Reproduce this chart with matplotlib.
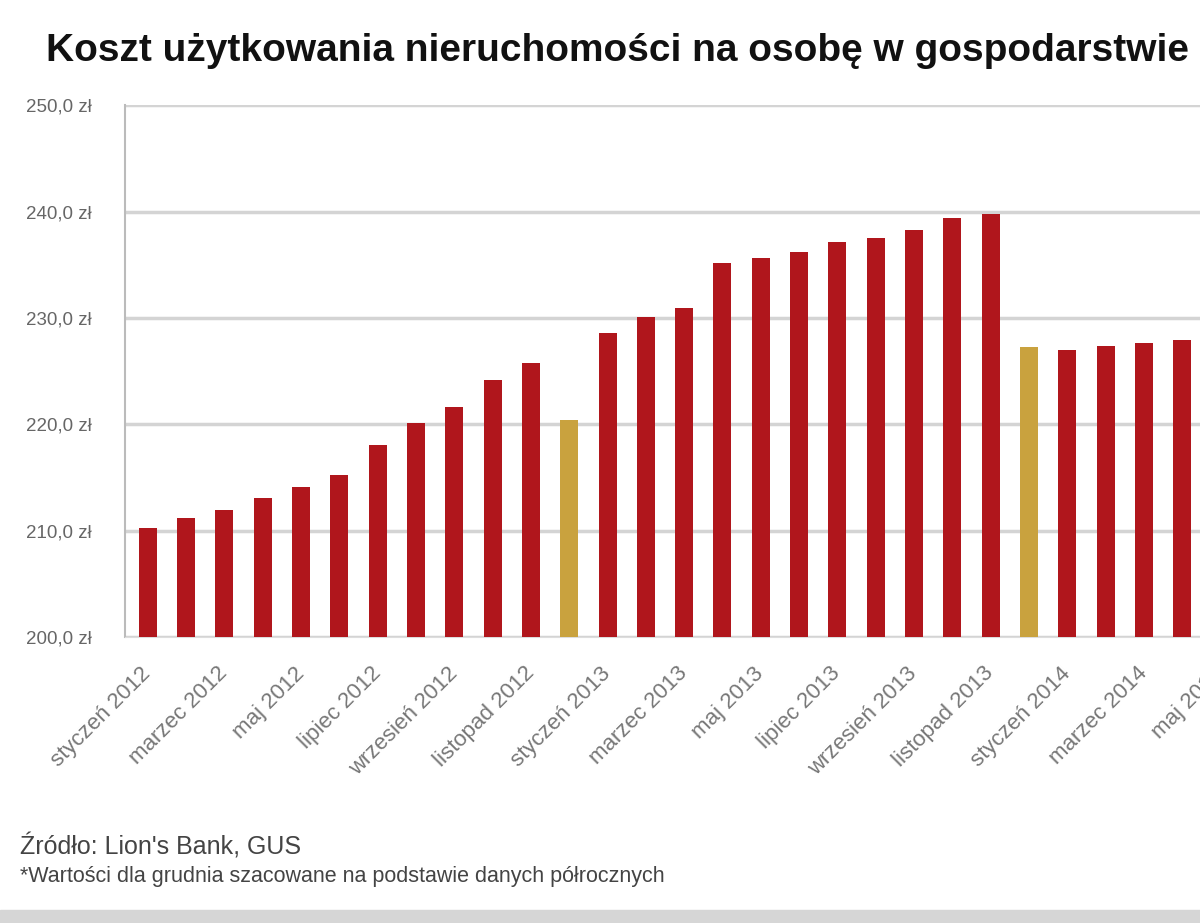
import numpy as np
import matplotlib
matplotlib.use("Agg")
import matplotlib.pyplot as plt
from matplotlib.patches import Rectangle

plt.rcParams['font.family'] = ['Liberation Sans', 'DejaVu Sans']

# monthly cost (zł)
months = ['styczeń', 'luty', 'marzec', 'kwiecień', 'maj', 'czerwiec',
          'lipiec', 'sierpień', 'wrzesień', 'październik', 'listopad', 'grudzień']
years = [2012, 2013, 2014]
labels = [f'{m} {y}' for y in years for m in months][:29]
values = [210.2, 211.2, 211.9, 213.1, 214.1, 215.2, 218.0, 220.1, 221.6, 224.2,
          225.8, 220.4, 228.6, 230.1, 230.9, 235.2, 235.6, 236.2, 237.1, 237.5,
          238.3, 239.4, 239.8, 227.3, 227.0, 227.4, 227.6, 227.9, 228.1]
estimated = [11, 23]   # yellow bars (grudzień)
yticks = [200, 210, 220, 230, 240, 250]

red = '#B0161C'
gold = '#C9A23E'

fig = plt.figure(figsize=(12, 9.23), dpi=100)
ax = fig.add_axes([0.104, 0.31, 0.977, 0.576])

x = np.arange(len(values))
colors = [gold if i in estimated else red for i in x]
ax.bar(x, [v - 200 for v in values], bottom=200, width=0.47, color=colors, zorder=3)

ax.set_ylim(200, 250)
ax.set_xlim(-0.6, 30)
ax.set_yticks(yticks)
ax.set_yticklabels([f'{t},0 zł' for t in yticks], fontsize=13.5, color='#666666')
ax.yaxis.grid(True, color='#d4d4d4', linewidth=2.5, zorder=0)
ax.tick_params(axis='y', length=0, pad=24)
ax.tick_params(axis='x', length=0, pad=24)

ax.set_xticks(x[::2])
ax.set_xticklabels(labels[::2], rotation=45, ha='right', va='center',
                   rotation_mode='anchor', fontsize=16, color='#777777')

for s in ['top', 'right']:
    ax.spines[s].set_visible(False)
ax.spines['left'].set_color('#bbbbbb')
ax.spines['left'].set_linewidth(1.5)
ax.spines['bottom'].set_color('#dddddd')

fig.text(0.038, 0.945, 'Koszt użytkowania nieruchomości na osobę w gospodarstwie domowym',
         fontsize=28, fontweight='bold', color='#111111', va='center')
fig.text(0.017, 0.083, 'Źródło: Lion\'s Bank, GUS', fontsize=18, color='#444444', va='center')
fig.text(0.017, 0.050, '*Wartości dla grudnia szacowane na podstawie danych półrocznych',
         fontsize=15.5, color='#444444', va='center')

fig.patches.append(Rectangle((0, 0), 1, 0.014, transform=fig.transFigure,
                             color='#d6d6d6', zorder=0))

fig.savefig('out.png', dpi=100)
